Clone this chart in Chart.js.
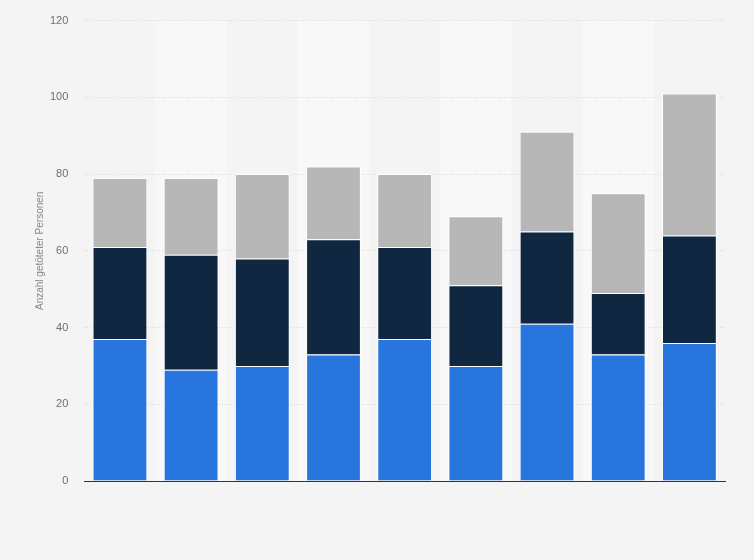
<!DOCTYPE html>
<html>
<head>
<meta charset="utf-8">
<script src="https://cdn.jsdelivr.net/npm/chart.js@4"></script>
<style>
  html, body { margin: 0; padding: 0; background: #f4f4f4; overflow: hidden; }
  #wrap { width: 754px; height: 560px; }
  #chart { display: block; margin-top: -2px; }
</style>
</head>
<body>
<div id="wrap"><canvas id="chart" width="754" height="562"></canvas></div>
<script>
// Categories carry no visible labels in the reference
const categories = ['1', '2', '3', '4', '5', '6', '7', '8', '9'];
const blueValues = [37, 29, 30, 33, 37, 30, 41, 33, 36];
const navyValues = [24, 30, 28, 30, 24, 21, 24, 16, 28];
const grayValues = [18, 20, 22, 19, 19, 18, 26, 26, 37];
const yTicks = [0, 20, 40, 60, 80, 100, 120];

// Alternating light column bands behind the bars
const bandPlugin = {
    id: 'bands',
    beforeDraw(chart) {
        const { ctx, chartArea, scales } = chart;
        ctx.save();
        ctx.fillStyle = '#f4f4f4';
        ctx.fillRect(0, 0, chart.width, chart.height);
        const step = scales.x.getPixelForValue(1) - scales.x.getPixelForValue(0);
        ctx.fillStyle = '#f8f8f8';
        categories.forEach((c, i) => {
            if (i % 2 === 1) {
                const cx = scales.x.getPixelForValue(i);
                ctx.fillRect(cx - step / 2, chartArea.top, step, chartArea.bottom - chartArea.top);
            }
        });
        ctx.restore();
    }
};

const ctx = document.getElementById('chart').getContext('2d');
new Chart(ctx, {
    type: 'bar',
    data: {
        labels: categories,
        datasets: [
            { data: blueValues, backgroundColor: '#2876dd', borderColor: '#ffffff', borderWidth: 1 },
            { data: navyValues, backgroundColor: '#0f2741', borderColor: '#ffffff', borderWidth: 1 },
            { data: grayValues, backgroundColor: '#b7b7b7', borderColor: '#ffffff', borderWidth: 1 }
        ]
    },
    options: {
        responsive: false,
        animation: false,
        layout: { padding: { top: 4, right: 29, bottom: 71, left: 34 } },
        datasets: { bar: { categoryPercentage: 0.77, barPercentage: 1 } },
        plugins: { legend: { display: false }, tooltip: { enabled: false } },
        scales: {
            x: {
                stacked: true,
                ticks: { display: false },
                grid: { display: false },
                border: { display: true, color: '#333333', width: 1 }
            },
            y: {
                stacked: true,
                min: 0,
                max: 120,
                afterBuildTicks(scale) { scale.ticks = yTicks.map(v => ({ value: v })); },
                ticks: { color: '#6e6e6e', font: { family: 'Arial, "Liberation Sans"', size: 11 }, padding: 16 },
                grid: { color: '#d6d6d6', drawTicks: false },
                border: { display: false, dash: [1, 2] },
                title: {
                    display: true,
                    text: 'Anzahl getöteter Personen',
                    color: '#888888',
                    font: { family: 'Arial, "Liberation Sans"', size: 10 },
                    padding: { top: 0, bottom: -12 }
                }
            }
        }
    },
    plugins: [bandPlugin]
});
</script>
</body>
</html>
